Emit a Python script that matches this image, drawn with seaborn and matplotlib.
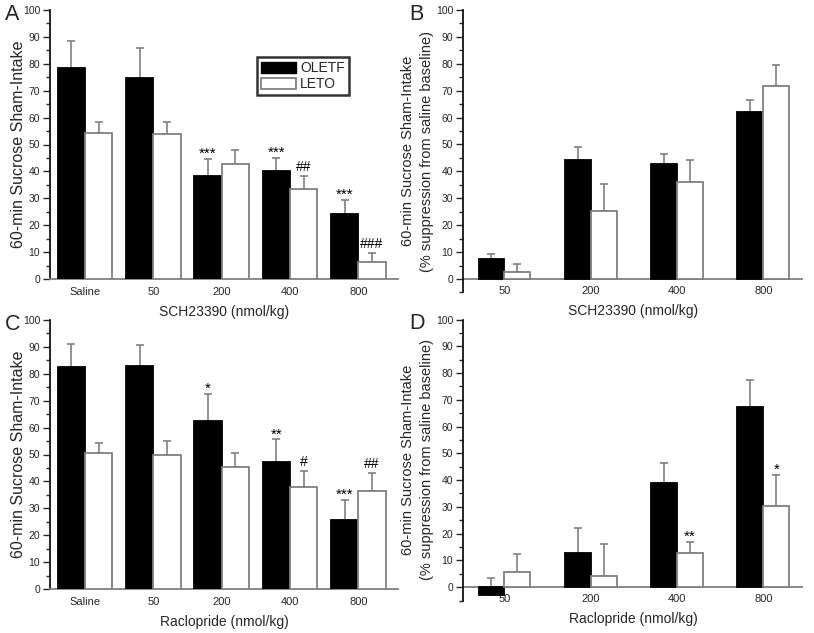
import numpy as np
import pandas as pd
import seaborn as sns
import matplotlib
matplotlib.use("Agg")
import matplotlib.pyplot as plt
from matplotlib.ticker import MultipleLocator
from matplotlib.patches import Patch

# categories
doses_all = ["Saline", "50", "200", "400", "800"]
doses_drug = ["50", "200", "400", "800"]
strains = ["OLETF", "LETO"]

# A: SCH23390 intake
a_oletf = [78.5, 74.8, 38.4, 40.0, 24.0]
a_oletf_err = [10.0, 11.2, 6.3, 5.0, 5.5]
a_leto = [54.3, 54.0, 42.6, 33.5, 6.5]
a_leto_err = [3.9, 4.2, 5.4, 4.9, 3.3]
a_marks_oletf = ["", "", "***", "***", "***"]
a_marks_leto = ["", "", "", "##", "###"]

# B: SCH23390 % suppression
b_oletf = [7.5, 44.3, 42.6, 62.0]
b_oletf_err = [1.8, 4.7, 3.7, 4.5]
b_leto = [2.5, 25.2, 36.0, 71.8]
b_leto_err = [3.0, 10.0, 8.4, 7.7]

# C: Raclopride intake
c_oletf = [82.5, 82.9, 62.6, 47.2, 25.6]
c_oletf_err = [8.5, 7.8, 10.0, 8.4, 7.4]
c_leto = [50.4, 49.8, 45.3, 38.1, 36.5]
c_leto_err = [3.7, 5.2, 5.3, 5.8, 6.7]
c_marks_oletf = ["", "", "*", "**", "***"]
c_marks_leto = ["", "", "", "#", "##"]

# D: Raclopride % suppression
d_oletf = [-2.9, 12.6, 38.8, 67.2]
d_oletf_err = [6.3, 9.6, 7.4, 10.1]
d_leto = [5.5, 4.2, 12.9, 30.3]
d_leto_err = [7.0, 12.0, 4.0, 11.5]
d_marks_oletf = ["", "", "", ""]
d_marks_leto = ["", "", "**", "*"]

GRAY = "#808080"

sns.set_theme(style="ticks")
plt.rcParams["font.family"] = ["Liberation Sans", "DejaVu Sans"]


def make_df(doses, oletf, leto):
    return pd.DataFrame({
        "dose": doses * 2,
        "value": oletf + leto,
        "strain": ["OLETF"] * len(doses) + ["LETO"] * len(doses),
    })


def panel(ax, doses, oletf, oletf_err, leto, leto_err, marks_o, marks_l,
          width, xlim, ylim, xlabel, ylabel, ylab_size, ylab_x, letter, zero_line):
    df = make_df(doses, oletf, leto)
    sns.barplot(data=df, x="dose", y="value", hue="strain", order=doses,
                hue_order=strains, palette={"OLETF": "black", "LETO": "white"},
                width=width, gap=0, errorbar=None, legend=False, ax=ax, zorder=3)
    edges = {"OLETF": "black", "LETO": GRAY}
    for cont, name, errs, vals, marks in zip(ax.containers, strains,
                                             [oletf_err, leto_err], [oletf, leto],
                                             [marks_o, marks_l]):
        xs = []
        for p in cont.patches:
            p.set_edgecolor(edges[name])
            p.set_linewidth(1.3)
            xs.append(p.get_x() + p.get_width() / 2)
        ax.errorbar(xs, vals, yerr=[np.zeros(len(errs)), errs], fmt="none",
                    ecolor=GRAY, elinewidth=1.2, capsize=3, capthick=1.2, zorder=2)
        for x, v, e, m in zip(xs, vals, errs, marks):
            if m:
                off = 0.4 if m.startswith("*") else 1.8
                ax.text(x, max(v, 0) + e + off, m, ha="center", va="baseline",
                        fontsize=11 if m.startswith("*") else 10, color="black")

    ax.set_xlim(*xlim)
    ax.set_ylim(*ylim)
    ax.yaxis.set_minor_locator(MultipleLocator(5))
    ax.set_yticks(np.arange(0, 101, 10))
    ax.tick_params(axis="y", which="major", length=5, width=1, labelsize=7.5, pad=2)
    ax.tick_params(axis="y", which="minor", length=3, width=1)
    ax.tick_params(axis="x", length=0, labelsize=8, pad=-4.6 if zero_line else 5.5)
    ax.set_xlabel(xlabel, fontsize=10, labelpad=6)
    ax.set_ylabel(ylabel, fontsize=ylab_size, linespacing=1.5)
    ax.yaxis.set_label_coords(ylab_x, 0.5)
    for s in ["top", "right"]:
        ax.spines[s].set_visible(False)
    ax.spines["left"].set_color("black")
    ax.spines["left"].set_linewidth(1.2)
    if zero_line:
        ax.spines["bottom"].set_visible(False)
        ax.axhline(0, color=GRAY, lw=1.3, zorder=1)
    else:
        ax.spines["bottom"].set_color(GRAY)
        ax.spines["bottom"].set_linewidth(1.3)
    lx = -0.13 if not zero_line else -0.157
    ax.text(lx, 0.983 if not zero_line else 0.984, letter,
            transform=ax.transAxes, fontsize=15.5, ha="left", va="center")


W, H = 814, 633
fig = plt.figure(figsize=(W / 100, H / 100), dpi=100)


def rect(left, right, top, bottom):
    return [left / W, 1 - bottom / H, (right - left) / W, (bottom - top) / H]


ax_a = fig.add_axes(rect(50, 398, 10, 279))
ax_b = fig.add_axes(rect(463, 803, 10, 292.4))
ax_c = fig.add_axes(rect(50, 398, 320, 589))
ax_d = fig.add_axes(rect(463, 803, 319.5, 600.5))

ylab = "60-min Sucrose Sham-Intake"
ylab2 = "60-min Sucrose Sham-Intake\n(% suppression from saline baseline)"

panel(ax_a, doses_all, a_oletf, a_oletf_err, a_leto, a_leto_err,
      a_marks_oletf, a_marks_leto, 0.8, (-0.51, 4.58), (0, 100),
      "SCH23390 (nmol/kg)", ylab, 11.5, -0.068, "A", False)
panel(ax_b, doses_drug, b_oletf, b_oletf_err, b_leto, b_leto_err,
      [""] * 4, [""] * 4, 0.6, (-0.48, 3.46), (-5, 100),
      "SCH23390 (nmol/kg)", ylab2, 10.5, -0.085, "B", True)
panel(ax_c, doses_all, c_oletf, c_oletf_err, c_leto, c_leto_err,
      c_marks_oletf, c_marks_leto, 0.8, (-0.51, 4.58), (0, 100),
      "Raclopride (nmol/kg)", ylab, 11.5, -0.068, "C", False)
panel(ax_d, doses_drug, d_oletf, d_oletf_err, d_leto, d_leto_err,
      d_marks_oletf, d_marks_leto, 0.6, (-0.48, 3.46), (-5, 100),
      "Raclopride (nmol/kg)", ylab2, 10.5, -0.085, "D", True)

handles = [Patch(facecolor="black", edgecolor="black", label="OLETF"),
           Patch(facecolor="white", edgecolor=GRAY, linewidth=1.3, label="LETO")]
leg = ax_a.legend(handles=handles, loc="upper left", bbox_to_anchor=(0.595, 0.825),
                  fontsize=10, frameon=True, fancybox=False, borderpad=0.3,
                  handlelength=2.5, handleheight=0.8, handletextpad=0.3,
                  labelspacing=0.15, borderaxespad=0)
leg.get_frame().set_edgecolor("black")
leg.get_frame().set_linewidth(1.8)

fig.savefig("out.png", dpi=100)
